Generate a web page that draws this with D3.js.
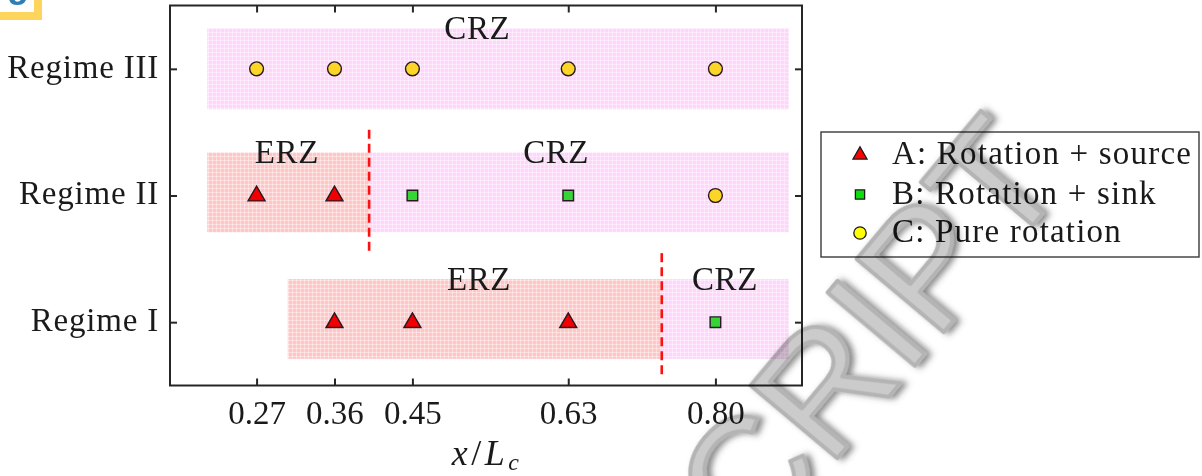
<!DOCTYPE html>
<html>
<head>
<meta charset="utf-8">
<script src="https://cdn.jsdelivr.net/npm/d3@7"></script>
<style>
  html, body { margin: 0; padding: 0; background: #fff; }
  svg { display: block; }
  .serif { font-family: "Liberation Serif", "Times New Roman", serif; fill: #1a1a1a; }
</style>
</head>
<body>
<svg id="chart" width="1202" height="476"></svg>
<script>
// Flow regimes on the y axis, probe stations on the x axis
const regimes = ["Regime I", "Regime II", "Regime III"];
const regimeLevels = [1, 2, 3];
const xTicks = [0.27, 0.36, 0.45, 0.63, 0.80];

// Zone bands per regime: [regime level, zone kind, x start, x end]
const zoneRegime = [3, 2, 2, 1, 1];
const zoneKind   = ["CRZ", "ERZ", "CRZ", "ERZ", "CRZ"];
const zoneStart  = [0.213, 0.213, 0.40, 0.306, 0.738];
const zoneEnd    = [0.885, 0.40, 0.885, 0.738, 0.885];
// vertical extent of each band around its regime level
const bandLow  = [2.68, 1.71, 1.71, 0.71, 0.71];
const bandHigh = [3.32, 2.34, 2.34, 1.34, 1.34];

// Zone labels: regime level, text, x centre
const labelRegime = [3, 2, 2, 1, 1];
const labelText   = ["CRZ", "ERZ", "CRZ", "ERZ", "CRZ"];
const labelX      = [0.525, 0.305, 0.616, 0.527, 0.811];

// ERZ/CRZ boundaries (dashed): x, y from, y to
const boundaryX    = [0.40, 0.738];
const boundaryFrom = [1.54, 0.565];
const boundaryTo   = [2.52, 1.545];

// Station classification
const typeA = { x: [0.27, 0.36, 0.36, 0.45, 0.63], y: [2, 2, 1, 1, 1] };               // rotation + source
const typeB = { x: [0.45, 0.63, 0.80], y: [2, 2, 1] };                                  // rotation + sink
const typeC = { x: [0.27, 0.36, 0.45, 0.63, 0.80, 0.80], y: [3, 3, 3, 3, 3, 2] };      // pure rotation

const legendLabels = ["A: Rotation + source", "B: Rotation + sink", "C: Pure rotation"];

const svg = d3.select("#chart");
const plotL = 170, plotR = 802, plotT = 5.5, plotB = 385.5;

const x = d3.scaleLinear().domain([0.17, 0.90]).range([plotL, plotR]);
const y = d3.scaleLinear().domain([0.5, 3.5]).range([plotB, plotT]);

// hatch-like fills for the zone bands
const defs = svg.append("defs");
function gridPattern(id, base) {
  const p = defs.append("pattern").attr("id", id)
    .attr("width", 4).attr("height", 4).attr("patternUnits", "userSpaceOnUse");
  p.append("rect").attr("width", 4).attr("height", 4).attr("fill", base);
  p.append("path").attr("d", "M0 0.5H4M0.5 0V4")
    .attr("stroke", "#ffffff").attr("stroke-opacity", 0.4).attr("stroke-width", 1);
}
gridPattern("fillERZ", "#ffc6c6");
gridPattern("fillCRZ", "#fdd6fa");

const shadow = defs.append("filter").attr("id", "wmShade")
  .attr("x", "-20%").attr("y", "-20%").attr("width", "140%").attr("height", "140%");
shadow.append("feDropShadow").attr("dx", 3).attr("dy", 4).attr("stdDeviation", 3)
  .attr("flood-color", "#4a4a4a").attr("flood-opacity", 0.65);

// zone bands
const zones = zoneKind.map((k, i) => ({ k, r: zoneRegime[i], x0: zoneStart[i], x1: zoneEnd[i], lo: bandLow[i], hi: bandHigh[i] }));
svg.append("g").selectAll("rect").data(zones).join("rect")
  .attr("x", d => x(d.x0))
  .attr("width", d => x(d.x1) - x(d.x0))
  .attr("y", d => y(d.hi))
  .attr("height", d => y(d.lo) - y(d.hi))
  .attr("fill", d => d.k === "ERZ" ? "url(#fillERZ)" : "url(#fillCRZ)");

// zone boundaries
svg.append("g").selectAll("line").data(boundaryX).join("line")
  .attr("x1", d => x(d)).attr("x2", d => x(d))
  .attr("y1", (d, i) => y(boundaryTo[i])).attr("y2", (d, i) => y(boundaryFrom[i]))
  .attr("stroke", "#ff1010").attr("stroke-width", 2.6).attr("stroke-dasharray", "9,5");

// zone labels sit just over the top edge of their band
const bandTopFor = r => d3.max(zones.filter(z => z.r === r), z => z.hi);
svg.append("g").selectAll("text").data(labelText).join("text")
  .attr("class", "serif")
  .attr("x", (d, i) => x(labelX[i]))
  .attr("y", (d, i) => y(bandTopFor(labelRegime[i])) + 11)
  .attr("text-anchor", "middle")
  .attr("font-size", 33).attr("letter-spacing", 0.6)
  .text(d => d);

// station markers
const markStroke = "#2b1724";
const tri = d3.symbol().type(d3.symbolTriangle).size(125)();
const sq = d3.symbol().type(d3.symbolSquare).size(112)();
const circ = d3.symbol().type(d3.symbolCircle).size(150)();
function plotMarks(set, path, fill, dy) {
  svg.append("g").selectAll("path").data(set.x.map((v, i) => [v, set.y[i]])).join("path")
    .attr("d", path)
    .attr("transform", d => `translate(${x(d[0])},${y(d[1]) + dy})`)
    .attr("fill", fill).attr("stroke", markStroke).attr("stroke-width", 1.4);
}
plotMarks(typeA, tri, "#f20000", 0.5);
plotMarks(typeB, sq, "#36d536", 0);
plotMarks(typeC, circ, "#fbd628", 0);

// axes with inward ticks on all four sides
const fmt = d3.format(".2f");
svg.append("g").attr("transform", `translate(0,${plotB})`)
  .call(d3.axisBottom(x).tickValues(xTicks).tickSize(-7).tickPadding(15).tickFormat(fmt))
  .call(g => g.select(".domain").remove())
  .call(g => g.selectAll("line").attr("stroke", "#262626").attr("stroke-width", 2))
  .call(g => g.selectAll("text").attr("class", "serif").attr("font-size", 33));
svg.append("g").attr("transform", `translate(0,${plotT})`)
  .call(d3.axisTop(x).tickValues(xTicks).tickSize(-7).tickFormat(""))
  .call(g => g.select(".domain").remove())
  .call(g => g.selectAll("line").attr("stroke", "#262626").attr("stroke-width", 2));
svg.append("g").attr("transform", `translate(${plotL},0)`)
  .call(d3.axisLeft(y).tickValues(regimeLevels).tickSize(-7).tickPadding(11)
    .tickFormat((d, i) => regimes[i]))
  .call(g => g.select(".domain").remove())
  .call(g => g.selectAll("line").attr("stroke", "#262626").attr("stroke-width", 2))
  .call(g => g.selectAll("text").attr("class", "serif").attr("font-size", 33)
    .attr("letter-spacing", 0.8).attr("dy", "0.25em"));
svg.append("g").attr("transform", `translate(${plotR},0)`)
  .call(d3.axisRight(y).tickValues(regimeLevels).tickSize(-7).tickFormat(""))
  .call(g => g.select(".domain").remove())
  .call(g => g.selectAll("line").attr("stroke", "#262626").attr("stroke-width", 2));

svg.append("rect")
  .attr("x", plotL).attr("y", plotT).attr("width", plotR - plotL).attr("height", plotB - plotT)
  .attr("fill", "none").attr("stroke", "#262626").attr("stroke-width", 2);

// x axis title: x / L_c
const xt = svg.append("text").attr("class", "serif")
  .attr("x", 487).attr("y", 465)
  .attr("text-anchor", "middle").attr("font-size", 36).attr("letter-spacing", 3.5);
xt.append("tspan").attr("font-style", "italic").text("x");
xt.append("tspan").text("/");
xt.append("tspan").attr("font-style", "italic").text("L");
xt.append("tspan").attr("font-style", "italic").attr("font-size", 24).attr("dy", 5).text("c");

// legend
const lg = svg.append("g");
lg.append("rect").attr("x", 821).attr("y", 132).attr("width", 378).attr("height", 125)
  .attr("fill", "#fff").attr("stroke", "#3a3a3a").attr("stroke-width", 1.4);
const legendMarks = [
  { path: d3.symbol().type(d3.symbolTriangle).size(85)(), fill: "#ff0000" },
  { path: d3.symbol().type(d3.symbolSquare).size(85)(), fill: "#10dd10" },
  { path: d3.symbol().type(d3.symbolCircle).size(120)(), fill: "#ffff00" }
];
const rowY = [155, 194.5, 233];
legendLabels.forEach((t, i) => {
  lg.append("path").attr("d", legendMarks[i].path)
    .attr("transform", `translate(860,${rowY[i]})`)
    .attr("fill", legendMarks[i].fill).attr("stroke", "#1a1a1a").attr("stroke-width", 1.3);
  lg.append("text").attr("class", "serif").attr("x", 892).attr("y", rowY[i] + 9)
    .attr("font-size", 33).attr("letter-spacing", 1.2).text(t);
});

// panel tag
svg.append("rect").attr("x", -10).attr("y", -10).attr("width", 48).attr("height", 26)
  .attr("fill", "#fff").attr("stroke", "#fdd45c").attr("stroke-width", 8);
svg.append("text").attr("x", 18).attr("y", -3).attr("text-anchor", "middle")
  .attr("font-family", "Liberation Sans, Arial, sans-serif").attr("font-weight", "bold")
  .attr("font-size", 36).attr("fill", "#2f7fb5").text("g");

// manuscript watermark
const wmAngle = -50, wmSize = 165;
svg.append("text")
  .attr("transform", `translate(752,560) rotate(${wmAngle})`)
  .attr("font-family", "Liberation Sans, Arial, sans-serif")
  .attr("font-size", wmSize)
  .attr("fill", "#cbcbcb").attr("stroke", "#b4b4b4").attr("stroke-width", 4)
  .attr("stroke-linejoin", "round")
  .attr("filter", "url(#wmShade)")
  .style("mix-blend-mode", "multiply")
  .text("CRIPT");
</script>
</body>
</html>
